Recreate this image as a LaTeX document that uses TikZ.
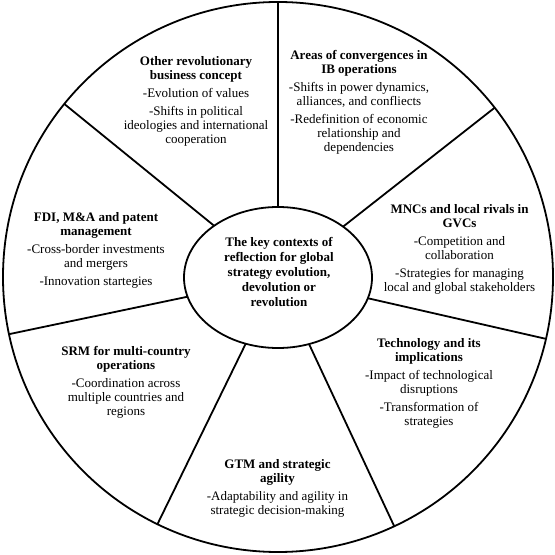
\documentclass[tikz,border=0pt]{standalone}
\usepackage{fontspec}
\setmainfont{Liberation Serif}
\usetikzlibrary{shapes.geometric}
\begin{document}
\begin{tikzpicture}[x=1pt,y=1pt,
  ring/.style={draw, line width=1.8pt},
  spoke/.style={line width=1.8pt},
  sector/.style={align=center, anchor=base, inner sep=0pt, font=\fontsize{13}{14}\selectfont},
  hub/.style={align=center, anchor=base, inner sep=0pt, font=\fontsize{13}{15.2}\selectfont\bfseries}]
\useasboundingbox (0,0) rectangle (555,555);
\node[ring, circle, minimum size=550pt, inner sep=0pt, outer sep=0pt] (outer) at (278,278) {};
\node[ring, ellipse, minimum width=188pt, minimum height=141pt, inner sep=0pt, outer sep=0pt] (ell) at (278,277.5) {};
\foreach \k in {0,...,6}{
  \pgfmathsetmacro{\ang}{90+\k*360/7}
  \draw[spoke] (ell.\ang) -- (outer.\ang);
}
\node[hub] (hubtext) at (279,248) {The key contexts of\\reflection for global\\strategy evolution,\\devolution or\\revolution};
\node[sector] (s1) at (196,411) {\textbf{Other revolutionary}\\\textbf{business concept}\\[4pt]-Evolution of values\\[4pt]-Shifts in political\\ideologies and international\\cooperation};
\node[sector] (s2) at (359,403) {\textbf{Areas of convergences in}\\\textbf{IB operations}\\[4pt]-Shifts in power dynamics,\\alliances, and confliects\\[4pt]-Redefinition of economic\\relationship and\\dependencies};
\node[sector] (s3) at (459.5,263) {\textbf{MNCs and local rivals in}\\\textbf{GVCs}\\[4pt]-Competition and\\collaboration\\[4pt]-Strategies for managing\\local and global stakeholders};
\node[sector] (s4) at (429,129) {\textbf{Technology and its}\\\textbf{implications}\\[4pt]-Impact of technological\\disruptions\\[4pt]-Transformation of\\strategies};
\node[sector] (s5) at (277.5,40) {\textbf{GTM and strategic}\\\textbf{agility}\\[4pt]-Adaptability and agility in\\strategic decision-making};
\node[sector] (s6) at (126,139) {\textbf{SRM for multi-country}\\\textbf{operations}\\[4pt]-Coordination across\\multiple countries and\\regions};
\node[sector] (s7) at (96,269) {\textbf{FDI, M\&A and patent}\\\textbf{management}\\[4pt]-Cross-border investments\\and mergers\\[4pt]-Innovation startegies};
\end{tikzpicture}
\end{document}
